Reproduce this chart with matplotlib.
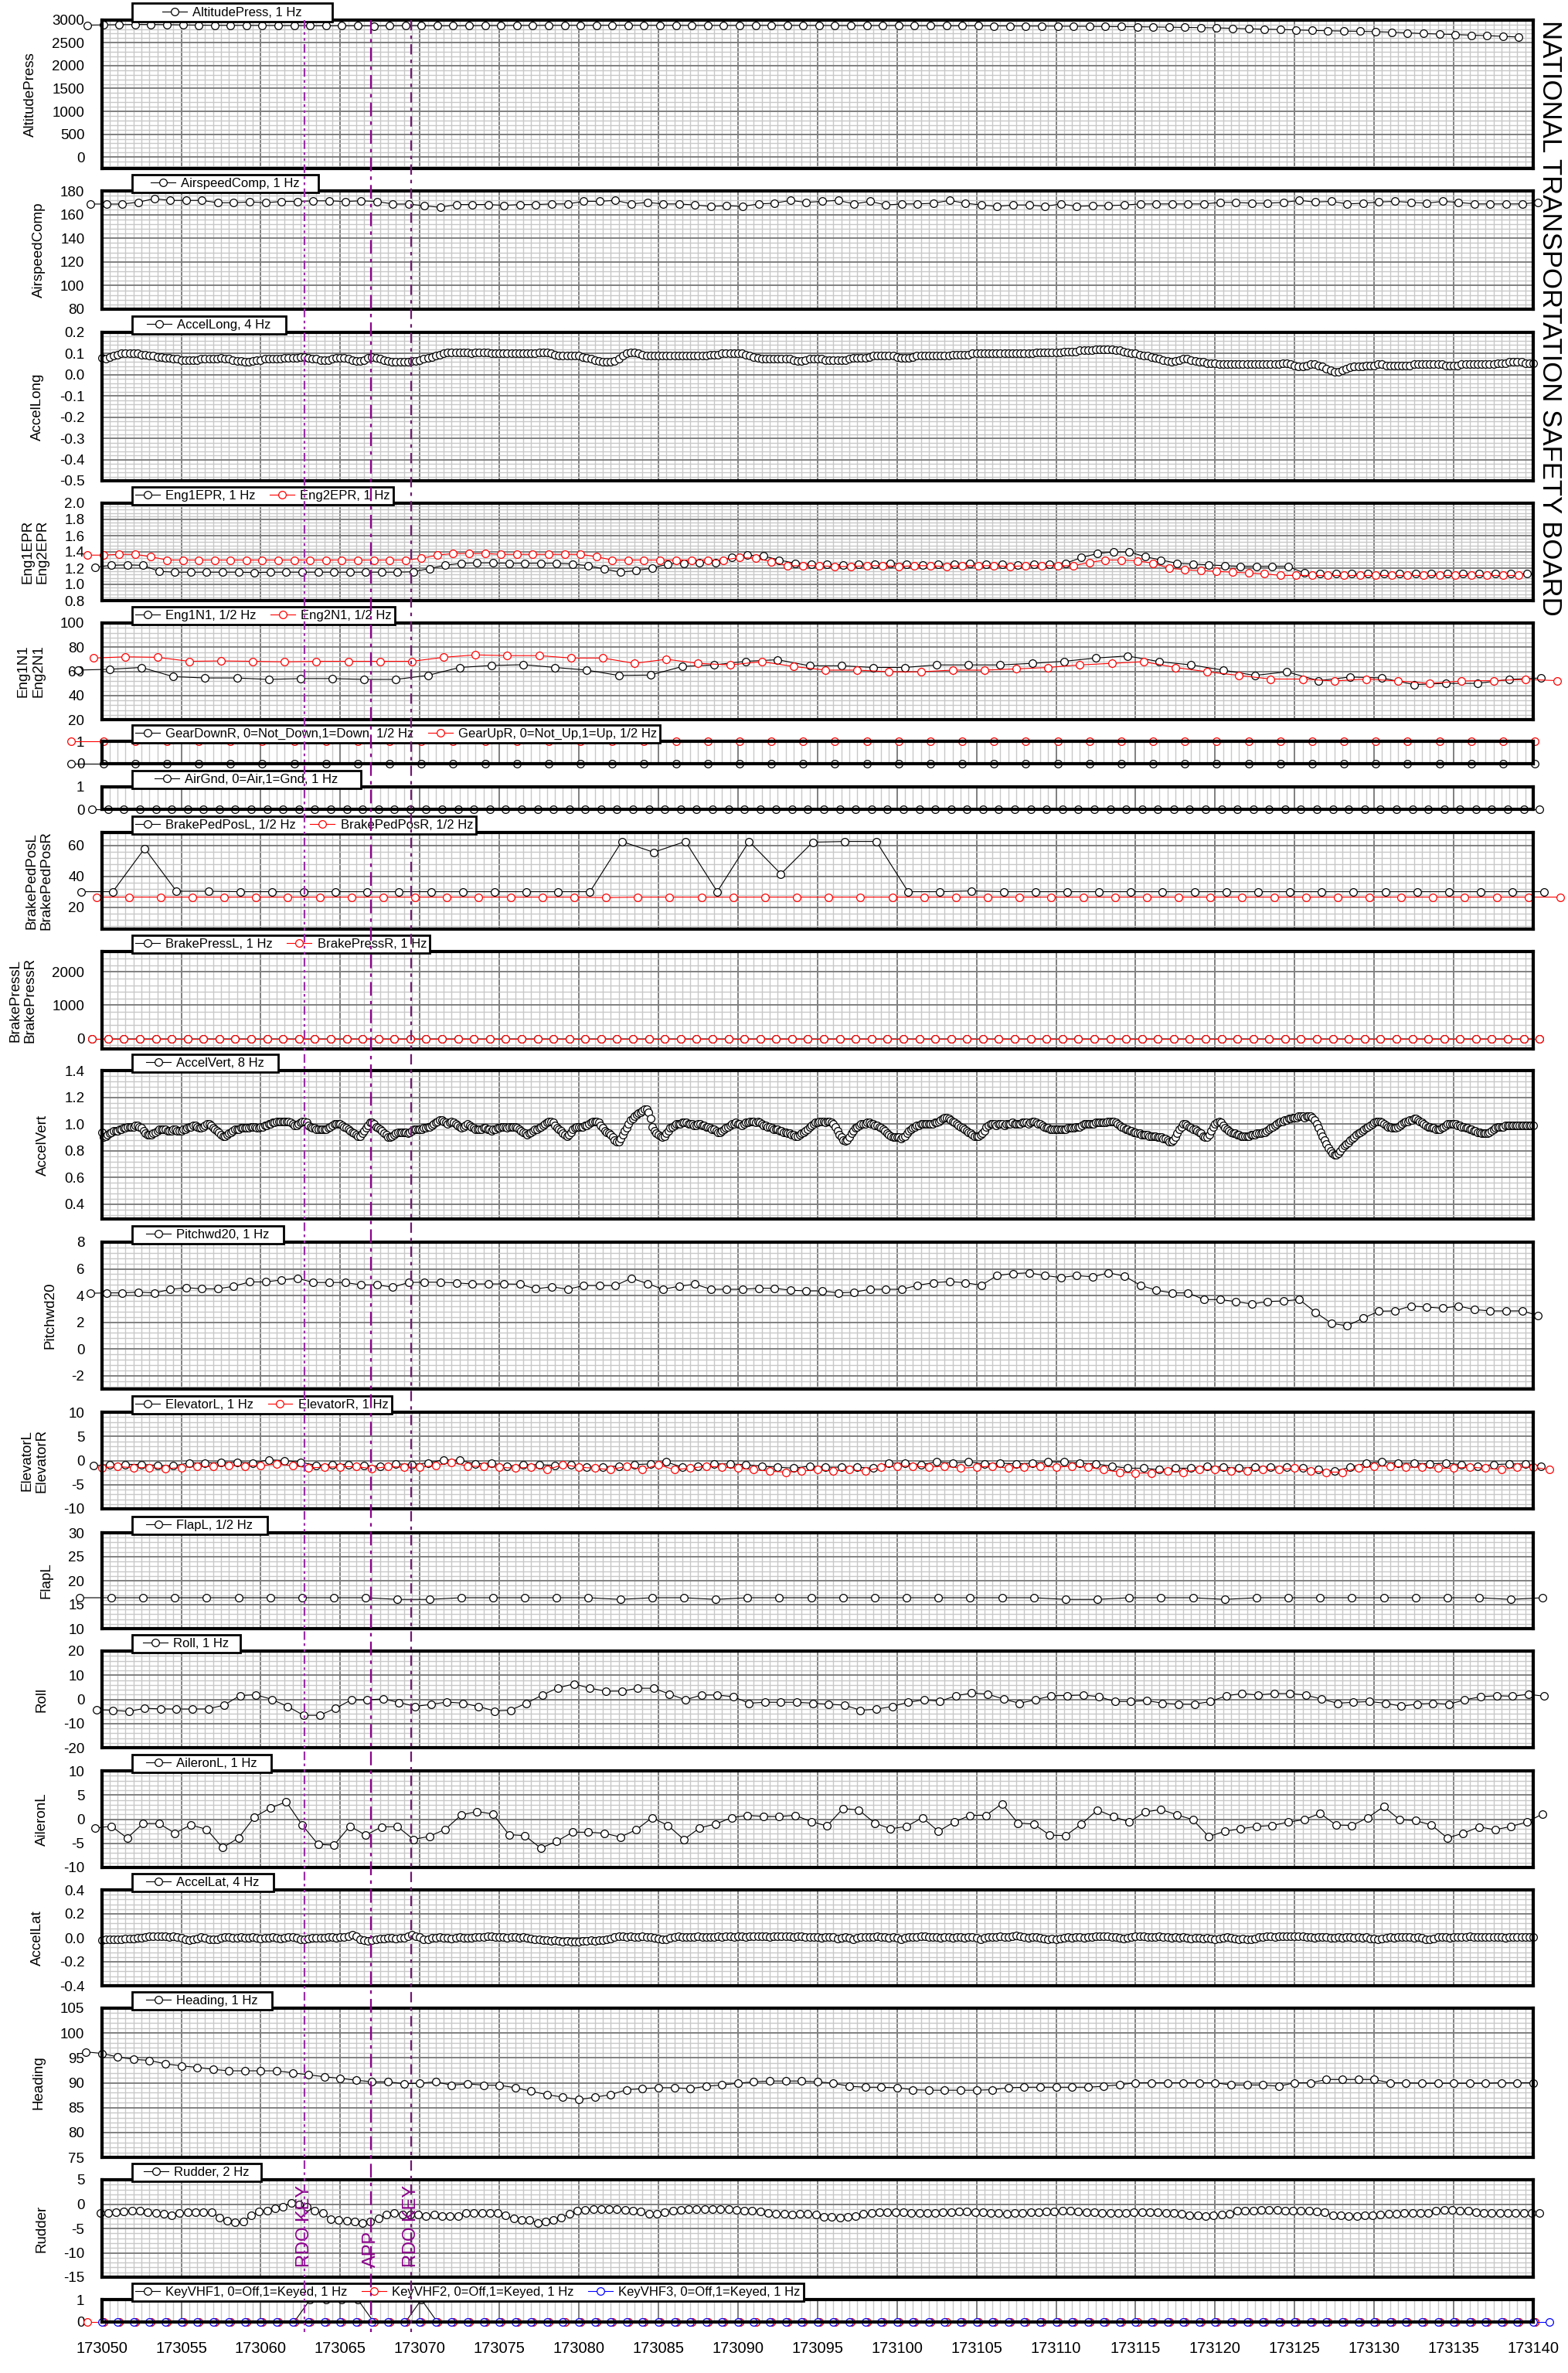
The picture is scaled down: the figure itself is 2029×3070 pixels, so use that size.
import numpy as np
import matplotlib
matplotlib.use("Agg")
import matplotlib.pyplot as plt
from matplotlib.ticker import MultipleLocator, FormatStrFormatter, NullLocator
from matplotlib.lines import Line2D
from matplotlib.offsetbox import DrawingArea
import matplotlib.transforms as mtransforms

plt.rcParams['font.family'] = ['Liberation Sans', 'DejaVu Sans']
plt.rcParams['axes.unicode_minus'] = False

W, H = 2029, 3070
T_START, T_END = 173050, 173140

# ---------------- data (sample start time, rate in Hz, values) ----------------
alt_t0 = 173049.1
altitude = [2885, 2890, 2895, 2900, 2900, 2895, 2890, 2885, 2880, 2880, 2880,
            2878, 2875, 2875, 2872, 2870, 2870, 2870, 2868, 2870, 2872,
            2872, 2870, 2870, 2872, 2875, 2875, 2878, 2878, 2880, 2880,
            2880, 2880, 2882, 2882, 2880, 2880, 2880, 2878, 2878, 2878,
            2878, 2878, 2880, 2880, 2878, 2878, 2875, 2875, 2875, 2875,
            2875, 2872, 2872, 2870, 2870, 2870, 2868, 2868, 2865, 2865,
            2862, 2860, 2858, 2855, 2852, 2850, 2845, 2840, 2835, 2830,
            2825, 2815, 2805, 2795, 2790, 2780, 2770, 2762, 2755, 2750,
            2742, 2730, 2715, 2700, 2690, 2680, 2665, 2655, 2640, 2625]

spd_t0 = 173049.3
airspeed = [168.9, 168.9, 168.9, 170.5, 173.4, 172.0, 172.0, 172.0, 170.0, 170.0,
            170.7, 170.0, 171.1, 171.1, 171.6, 171.6, 171.1, 171.6, 171.1, 168.9,
            168.9, 167.4, 166.1, 168.5, 168.5, 168.5, 167.8, 168.5, 168.5,
            169.0, 169.0, 171.2, 171.2, 172.0, 169.0, 170.3, 169.0, 169.0, 168.1,
            166.9, 167.5, 166.9, 169.0, 169.6, 172.0, 170.3, 171.2, 172.0, 169.0,
            171.2, 168.1, 169.0, 169.0, 169.6, 172.0, 169.6, 168.1, 166.9, 168.1,
            168.1, 166.9, 169.0, 166.9, 167.5, 167.5, 168.1, 169.0, 169.0, 169.0,
            169.0, 169.0, 170.3, 170.3, 169.6, 169.6, 170.3, 172.0, 170.6, 171.2,
            169.0, 169.6, 170.6, 171.2, 170.3, 169.6, 171.2, 170.3, 169.0, 169.0,
            169.0, 169.0, 170.3]

along_t0 = 173050.0
accel_long = [
    .08, .075, .085, .09, .095, .10, .10, .10, .10, .10, .095, .095, .09, .09, .085, .085,
    .08, .08, .075, .075, .07, .07, .07, .07, .07, .075, .075, .075, .075, .075, .08, .075,
    .075, .07, .065, .065, .06, .06, .065, .07, .07, .075, .075, .075, .075, .075, .08, .08,
    .08, .08, .085, .085, .08, .075, .075, .07, .07, .07, .075, .08, .08, .08, .075, .07,
    .065, .065, .07, .08, .085, .08, .075, .07, .065, .06, .06, .06, .06, .06, .065, .065,
    .07, .075, .08, .085, .09, .095, .10, .105, .105, .105, .105, .105, .105, .10, .105, .105,
    .105, .105, .10, .10, .10, .10, .10, .10, .10, .10, .10, .10, .10, .10, .105, .105,
    .105, .10, .095, .09, .09, .09, .09, .09, .09, .085, .08, .075, .07, .065, .06, .06,
    .06, .065, .075, .09, .10, .105, .105, .10, .095, .09, .09, .09, .09, .09, .09, .09,
    .09, .09, .09, .09, .09, .09, .09, .09, .09, .095, .095, .095, .10, .10, .10, .10,
    .10, .10, .095, .09, .085, .08, .075, .075, .075, .075, .075, .075, .075, .075, .07, .065,
    .065, .07, .075, .075, .075, .075, .07, .07, .07, .07, .07, .07, .075, .08, .08, .08,
    .08, .085, .09, .09, .09, .09, .09, .09, .085, .08, .08, .08, .085, .09, .09, .09,
    .09, .09, .09, .09, .09, .09, .095, .095, .095, .095, .095, .10, .10, .10, .10, .10,
    .10, .10, .10, .10, .10, .10, .10, .10, .10, .10, .10, .105, .105, .105, .105, .105,
    .105, .105, .11, .11, .11, .11, .115, .115, .115, .115, .12, .12, .12, .12, .12, .115,
    .115, .11, .105, .10, .10, .095, .09, .09, .085, .08, .075, .07, .065, .06, .065, .07,
    .075, .075, .07, .065, .06, .06, .055, .055, .055, .05, .05, .05, .05, .05, .05, .05,
    .05, .05, .05, .05, .05, .05, .05, .05, .05, .055, .055, .05, .045, .04, .04, .045,
    .05, .05, .045, .04, .03, .02, .015, .015, .02, .03, .035, .04, .04, .04, .045, .045,
    .045, .05, .05, .045, .045, .045, .045, .045, .045, .045, .05, .05, .05, .05, .05, .05,
    .05, .05, .045, .045, .045, .045, .05, .05, .05, .05, .05, .05, .05, .05, .05, .055,
    .055, .055, .06, .06, .06, .06, .055, .055, .055]

epr1_t0 = 173049.6
eng1_epr = [1.21, 1.235, 1.24, 1.235, 1.16, 1.15, 1.15, 1.15, 1.15, 1.15,
            1.145, 1.15, 1.15, 1.15, 1.15, 1.15, 1.15, 1.15, 1.15, 1.15,
            1.155, 1.195, 1.235, 1.26, 1.265, 1.265, 1.26, 1.26, 1.26, 1.26,
            1.25, 1.23, 1.19, 1.15, 1.17, 1.20, 1.25, 1.26, 1.27, 1.27,
            1.33, 1.36, 1.35, 1.30, 1.26, 1.25, 1.25, 1.24, 1.25, 1.25,
            1.26, 1.25, 1.24, 1.25, 1.25, 1.26, 1.25, 1.25, 1.24, 1.25,
            1.25, 1.26, 1.33, 1.38, 1.40, 1.40, 1.34, 1.30, 1.26, 1.25,
            1.24, 1.23, 1.22, 1.22, 1.22, 1.22, 1.14, 1.13, 1.13, 1.13,
            1.13, 1.13, 1.13, 1.13, 1.13, 1.13, 1.13, 1.13, 1.13, 1.13, 1.13]
epr2_t0 = 173049.1
eng2_epr = [1.36, 1.36, 1.37, 1.37, 1.34, 1.30, 1.30, 1.30, 1.30, 1.30,
            1.30, 1.30, 1.30, 1.30, 1.30, 1.30, 1.30, 1.30, 1.30, 1.30,
            1.30, 1.32, 1.36, 1.38, 1.38, 1.38, 1.37, 1.37, 1.37, 1.37,
            1.37, 1.37, 1.34, 1.30, 1.30, 1.30, 1.30, 1.30, 1.30, 1.30,
            1.30, 1.33, 1.32, 1.28, 1.23, 1.23, 1.23, 1.22, 1.22, 1.23,
            1.23, 1.22, 1.23, 1.23, 1.22, 1.23, 1.23, 1.23, 1.22, 1.23,
            1.23, 1.23, 1.23, 1.27, 1.30, 1.30, 1.29, 1.26, 1.20, 1.18,
            1.17, 1.16, 1.15, 1.14, 1.13, 1.11, 1.11, 1.11, 1.11, 1.11,
            1.11, 1.11, 1.11, 1.11, 1.11, 1.11, 1.11, 1.11, 1.11, 1.11, 1.11]

n1a_t0 = 173048.5
eng1_n1 = [61, 61.7, 63.2, 55.6, 54.5, 54.5, 53.3, 54, 54, 53.3, 53.3, 56.6, 63.2,
           64.8, 65.5, 63.2, 61, 56.6, 56.9, 64, 65.3, 68.3, 69.6, 64.6, 64.6, 63.2,
           63.2, 65.3, 65.3, 65.3, 66.6, 68.3, 71, 72.7, 68, 65.3, 61, 56.6, 59.6,
           52.3, 55.3, 54.5, 49, 50, 50, 53.3, 54.5]
n1b_t0 = 173049.5
eng2_n1 = [71, 72, 71.6, 68.3, 68.6, 68.3, 67.9, 68.3, 68.3, 68.3, 68.3, 71.6, 73.6,
           73, 73, 71, 71, 66.6, 70, 66.6, 65.3, 68, 64, 61, 61, 59.6, 59.6, 61, 61,
           62, 63.2, 65.3, 66.6, 68, 63.2, 59.6, 56.6, 53.6, 53.6, 52, 53.6, 52, 50,
           52, 52.3, 53.3, 52.3]

gear_t0 = 173048.1
gear_down = [0] * 47
gear_up = [1] * 47

airgnd_t0 = 173049.4
air_gnd = [0] * 92

bpl_t0 = 173048.7
brake_ped_l = [30, 30, 58, 30.3, 30.3, 30, 30, 30, 30, 30, 30, 30, 30, 30, 30, 30, 30,
               62.5, 55.5, 62.5, 30, 62.5, 41.5, 62, 62.5, 62.5, 30,
               30, 30.5, 30, 30, 30, 30, 30, 30, 30, 30, 30, 30, 30, 30, 30, 30, 30, 30, 30, 30]
bpr_t0 = 173049.7
brake_ped_r = [26.5] * 16 + [26.2] + [26.5] * 30

bp_t0 = 173049.4
brake_press_l = [0] * 92
brake_press_r = [0] * 92

avert_t0 = 173050.0
accel_vert = [
    0.94, 0.90, 0.91, 0.92, 0.93, 0.94, 0.95, 0.95,
    0.95, 0.96, 0.96, 0.97, 0.97, 0.98, 0.98, 0.98,
    0.98, 0.99, 0.99, 0.98, 0.97, 0.95, 0.93, 0.92,
    0.92, 0.92, 0.93, 0.94, 0.95, 0.96, 0.96, 0.96,
    0.96, 0.95, 0.95, 0.95, 0.96, 0.96, 0.95, 0.95,
    0.95, 0.96, 0.96, 0.97, 0.98, 0.98, 0.99, 0.99,
    0.98, 0.97, 0.97, 0.98, 0.99, 1.00, 1.00, 0.99,
    0.97, 0.96, 0.95, 0.94, 0.92, 0.91, 0.91, 0.92,
    0.93, 0.94, 0.95, 0.96, 0.96, 0.96, 0.97, 0.97,
    0.97, 0.97, 0.97, 0.98, 0.98, 0.98, 0.97, 0.97,
    0.98, 0.98, 0.99, 0.99, 1.00, 1.00, 1.01, 1.01,
    1.02, 1.02, 1.02, 1.02, 1.02, 1.02, 1.02, 1.01,
    1.00, 0.99, 0.99, 1.00, 1.01, 1.02, 1.02, 1.01,
    0.99, 0.98, 0.97, 0.97, 0.96, 0.96, 0.96, 0.96,
    0.96, 0.96, 0.97, 0.98, 0.99, 1.00, 1.00, 1.00,
    1.00, 0.99, 0.98, 0.97, 0.96, 0.95, 0.94, 0.93,
    0.92, 0.91, 0.91, 0.93, 0.95, 0.97, 0.99, 1.01,
    1.01, 1.00, 0.98, 0.97, 0.96, 0.95, 0.93, 0.92,
    0.90, 0.90, 0.91, 0.92, 0.93, 0.94, 0.94, 0.94,
    0.94, 0.94, 0.93, 0.94, 0.95, 0.96, 0.96, 0.96,
    0.96, 0.96, 0.97, 0.97, 0.98, 0.98, 0.99, 1.00,
    1.01, 1.02, 1.03, 1.03, 1.02, 1.01, 1.00, 1.01,
    1.02, 1.01, 1.00, 0.99, 0.98, 0.97, 0.98, 0.99,
    1.00, 0.99, 0.98, 0.97, 0.96, 0.96, 0.96, 0.96,
    0.97, 0.97, 0.96, 0.96, 0.95, 0.96, 0.96, 0.97,
    0.97, 0.98, 0.98, 0.98, 0.97, 0.98, 0.98, 0.98,
    0.98, 0.97, 0.96, 0.95, 0.94, 0.93, 0.92, 0.93,
    0.94, 0.95, 0.96, 0.96, 0.97, 0.98, 0.99, 1.00,
    1.01, 1.02, 1.02, 1.01, 0.99, 0.97, 0.96, 0.95,
    0.93, 0.92, 0.91, 0.92, 0.94, 0.96, 0.97, 0.98,
    0.98, 0.98, 0.98, 0.99, 0.99, 1.00, 1.01, 1.02,
    1.02, 1.02, 1.01, 0.99, 0.97, 0.95, 0.94, 0.93,
    0.92, 0.90, 0.88, 0.87, 0.87, 0.89, 0.92, 0.95,
    0.97, 1.00, 1.03, 1.04, 1.06, 1.07, 1.08, 1.09,
    1.10, 1.11, 1.11, 1.09, 1.04, 0.98, 0.95, 0.93,
    0.92, 0.91, 0.90, 0.91, 0.93, 0.95, 0.97, 0.98,
    0.99, 1.00, 1.00, 1.00, 1.01, 1.01, 1.01, 1.00,
    1.00, 1.00, 0.99, 0.99, 1.00, 1.00, 0.99, 0.99,
    0.98, 0.98, 0.97, 0.96, 0.96, 0.95, 0.94, 0.94,
    0.95, 0.96, 0.97, 0.98, 0.99, 1.00, 1.00, 1.01,
    1.00, 1.00, 0.99, 1.00, 1.01, 1.01, 1.02, 1.02,
    1.02, 1.01, 1.02, 1.01, 1.00, 0.99, 0.99, 0.98,
    0.98, 0.97, 0.96, 0.96, 0.96, 0.95, 0.95, 0.94,
    0.94, 0.93, 0.93, 0.92, 0.92, 0.91, 0.91, 0.92,
    0.93, 0.94, 0.95, 0.96, 0.98, 0.99, 1.00, 1.01,
    1.01, 1.02, 1.02, 1.02, 1.01, 1.02, 1.02, 1.01,
    1.00, 0.98, 0.95, 0.92, 0.90, 0.88, 0.875, 0.88,
    0.90, 0.93, 0.95, 0.97, 0.98, 0.99, 1.00, 1.00,
    1.00, 1.01, 1.01, 1.00, 1.00, 0.99, 0.99, 0.98,
    0.97, 0.96, 0.95, 0.93, 0.92, 0.91, 0.90, 0.90,
    0.90, 0.90, 0.89, 0.90, 0.91, 0.93, 0.95, 0.96,
    0.97, 0.98, 0.99, 0.99, 1.00, 1.00, 1.00, 1.00,
    1.00, 1.00, 1.00, 1.01, 1.01, 1.02, 1.03, 1.04,
    1.05, 1.05, 1.04, 1.03, 1.02, 1.01, 1.00, 0.99,
    0.98, 0.97, 0.96, 0.95, 0.94, 0.93, 0.92, 0.91,
    0.91, 0.91, 0.92, 0.93, 0.95, 0.98, 0.99, 1.00,
    1.00, 1.00, 0.99, 1.00, 1.00, 1.00, 0.99, 1.00,
    1.00, 1.00, 1.01, 1.00, 1.00, 1.00, 1.00, 1.01,
    1.01, 1.01, 1.00, 1.01, 1.02, 1.02, 1.01, 1.00,
    1.00, 0.99, 0.98, 0.97, 0.97, 0.96, 0.96, 0.96,
    0.96, 0.96, 0.96, 0.96, 0.96, 0.96, 0.97, 0.97,
    0.97, 0.97, 0.98, 0.98, 0.98, 0.99, 1.00, 1.00,
    1.00, 1.00, 1.00, 1.00, 1.01, 1.01, 1.01, 1.01,
    1.01, 1.01, 1.02, 1.02, 1.02, 1.02, 1.01, 1.00,
    0.99, 0.98, 0.97, 0.96, 0.96, 0.95, 0.95, 0.94,
    0.94, 0.93, 0.93, 0.92, 0.92, 0.92, 0.92, 0.91,
    0.91, 0.91, 0.91, 0.90, 0.90, 0.90, 0.89, 0.89,
    0.88, 0.87, 0.87, 0.88, 0.90, 0.93, 0.96, 0.98,
    1.00, 1.00, 0.99, 0.98, 0.97, 0.96, 0.96, 0.95,
    0.94, 0.93, 0.91, 0.90, 0.90, 0.92, 0.95, 0.98,
    1.00, 1.01, 1.02, 1.01, 0.99, 0.97, 0.96, 0.95,
    0.94, 0.93, 0.93, 0.92, 0.92, 0.91, 0.91, 0.91,
    0.91, 0.91, 0.92, 0.92, 0.92, 0.93, 0.93, 0.93,
    0.94, 0.94, 0.95, 0.96, 0.97, 0.98, 0.99, 1.00,
    1.01, 1.02, 1.02, 1.03, 1.03, 1.04, 1.04, 1.05,
    1.05, 1.05, 1.06, 1.06, 1.06, 1.05, 1.06, 1.06,
    1.06, 1.05, 1.03, 1.00, 0.97, 0.94, 0.91, 0.88,
    0.85, 0.82, 0.80, 0.78, 0.77, 0.77, 0.78, 0.80,
    0.82, 0.84, 0.85, 0.86, 0.88, 0.89, 0.90, 0.92,
    0.93, 0.94, 0.95, 0.96, 0.97, 0.98, 0.99, 1.00,
    1.01, 1.02, 1.02, 1.02, 1.01, 1.00, 0.99, 0.98,
    0.98, 0.97, 0.97, 0.97, 0.98, 0.99, 1.00, 1.01,
    1.02, 1.02, 1.03, 1.03, 1.04, 1.04, 1.03, 1.02,
    1.01, 1.00, 0.99, 0.98, 0.98, 0.97, 0.97, 0.96,
    0.96, 0.96, 0.97, 0.98, 0.99, 1.00, 1.00, 1.00,
    1.00, 1.00, 0.99, 0.99, 0.98, 0.98, 0.97, 0.97,
    0.96, 0.96, 0.95, 0.95, 0.94, 0.94, 0.93, 0.93,
    0.93, 0.93, 0.94, 0.95, 0.96, 0.97, 0.98, 0.98,
    0.98, 0.98, 0.99, 0.99, 0.99, 0.99, 0.99, 0.99,
    0.99, 0.99, 0.99, 0.99, 0.99, 0.99, 0.99, 0.99,
    0.99]

pitch_t0 = 173049.3
pitch = [4.17, 4.2, 4.2, 4.26, 4.2, 4.45, 4.6, 4.5, 4.5, 4.7, 5.02, 5.02, 5.17, 5.3,
         4.98, 4.98, 4.98, 4.8, 4.8, 4.63, 4.98, 5.0, 5.0, 4.95, 4.87, 4.87, 4.87,
         4.85, 4.5, 4.66, 4.47, 4.75, 4.75, 4.75, 5.3, 4.9, 4.47, 4.7, 4.85, 4.47,
         4.47, 4.47, 4.55, 4.55, 4.4, 4.35, 4.35, 4.2, 4.25, 4.47, 4.47, 4.47, 4.77,
         4.96, 5.05, 4.96, 4.77, 5.5, 5.65, 5.7, 5.5, 5.35, 5.5, 5.4, 5.7, 5.46, 4.77,
         4.4, 4.2, 4.2, 3.7, 3.7, 3.55, 3.37, 3.55, 3.6, 3.7, 2.76, 1.93, 1.73, 2.3,
         2.83, 2.85, 3.22, 3.14, 3.05, 3.22, 2.95, 2.85, 2.85, 2.85, 2.5]

elevl_t0 = 173049.5
elevator_l = [-1.1, -0.8, -0.8, -0.8, -1.0, -1.1, -0.5, -0.5, -0.4, -0.35, -0.5, 0.15,
              0.0, -0.35, -1.0, -0.8, -0.8, -1.0, -1.2, -0.7, -0.8, -0.5, 0.15, 0.05,
              -0.7, -0.5, -1.17, -0.85, -0.85, -1.0, -0.85, -1.38, -1.38, -1.17, -0.85,
              -0.7, -0.3, -1.38, -1.17, -0.7, -0.7, -0.85, -1.17, -1.38, -1.59, -1.17,
              -1.38, -1.38, -1.38, -1.59, -0.54, -0.54, -0.85, -0.3, -0.54, -0.3, -0.7,
              -0.54, -0.7, -0.54, -0.3, -0.3, -0.54, -0.7, -1.17, -1.59, -1.59, -1.9,
              -1.59, -1.59, -1.17, -1.38, -1.59, -1.38, -1.38, -1.38, -1.59, -1.9, -2.2,
              -1.38, -0.54, -0.3, -0.54, -0.54, -0.7, -0.54, -0.85, -1.17, -0.85, -0.7,
              -0.7, -1.17]
elevr_t0 = 173050.0
elevator_r = [-1.5, -1.25, -1.5, -1.45, -1.7, -1.45, -1.25, -1.25, -1.05, -1.15, -1.05,
              -0.75, -1.05, -1.5, -1.4, -1.3, -1.25, -1.7, -1.25, -1.4, -1.4, -1.05, -0.4,
              -1.15, -1.25, -1.4,
              -1.59, -1.38, -1.9, -0.85, -1.38, -1.59, -1.9, -1.17, -1.9, -0.85, -1.9,
              -1.59, -1.17, -1.38, -1.59, -1.9, -2.2, -2.4, -2.2, -1.9, -2.2, -1.9, -2.2,
              -1.38, -1.17, -1.17, -1.38, -1.17, -1.59, -1.38, -1.17, -1.59, -1.38, -1.17,
              -1.38, -1.17, -1.38, -1.9, -2.4, -2.6, -2.6, -2.2, -2.4, -1.9, -1.9, -2.2,
              -2.2, -1.9, -1.9, -1.59, -2.2, -2.4, -2.4, -1.59, -1.17, -1.17, -1.38, -1.38,
              -1.59, -1.59, -1.38, -1.59, -1.9, -1.38, -1.38, -1.9]

flap_t0 = 173048.6
flap_l = [16.45] * 10 + [16.1, 16.1] + [16.45] * 5 + [16.1, 16.45, 16.45, 16.1] \
    + [16.45] * 10 + [16.1, 16.1] + [16.45] * 3 + [16.1] + [16.45] * 8 + [16.1, 16.45]

roll_t0 = 173049.7
roll = [-4.3, -4.5, -5.0, -3.7, -3.95, -4.0, -4.0, -3.95, -2.35, 1.6, 1.9, 0.0, -3.0,
        -6.6, -6.6, -3.7, -0.2, -0.2, 0.2, -1.3, -2.9, -2.1, -1.1, -1.6, -3.0, -4.8,
        -4.5, -1.6, 1.8, 4.8, 6.4, 4.6, 3.4, 3.4, 4.6, 4.6, 2.2, -0.2, 1.8, 1.8, 1.1,
        -1.6, -1.2, -1.2, -1.2, -1.6, -2.0, -2.4, -4.5, -4.1, -2.9, -1.2, -0.2, -0.8,
        1.5, 2.6, 2.2, 0.1, -1.6, -0.2, 1.5, 1.6, 1.8, 1.1, -0.9, -0.9, -0.5, -1.6,
        -2.0, -2.0, -0.9, 1.5, 2.4, 1.8, 2.4, 2.4, 1.8, 0.1, -1.6, -1.2, -0.9, -1.6,
        -2.8, -2.0, -1.6, -2.0, -0.2, 1.1, 1.5, 1.3, 2.1, 1.3]

ail_t0 = 173049.6
aileron_l = [-1.86, -1.45, -3.9, -0.9, -0.9, -2.9, -1.2, -2.1, -5.9, -3.9, 0.43, 2.3,
             3.6, -1.2, -5.2, -5.4, -1.45, -3.3, -1.6, -1.55, -4.2, -3.55, -2.1, 0.85,
             1.6, 1.06, -3.2, -3.4, -6.0, -4.6, -2.7, -2.7, -2.9, -3.7, -2.2, 0.3, -1.3,
             -4.2, -1.8, -1.0, 0.3, 0.8, 0.56, 0.56, 0.8, -0.5, -1.4, 2.2, 1.9, -0.8,
             -2.0, -1.5, 0.3, -2.5, -0.6, 0.8, 0.8, 3.2, -0.8, -1.0, -3.3, -3.4, -1.0,
             1.9, 0.56, -0.6, 1.5, 2.0, 0.9, -0.1, -3.6, -2.5, -2.0, -1.5, -1.3, -0.6,
             -0.1, 1.2, -1.2, -1.3, 0.3, 2.6, -0.1, -0.3, -1.2, -3.9, -2.9, -1.6, -2.2,
             -1.5, -0.6, 1.1]

alat_t0 = 173050.0
accel_lat = [
    -.02, -.01, -.01, -.01, -.01, -.01, -.005, -.005, -.005, 0, 0, .005, .01, .01, .01, .01,
    .01, .005, .01, .005, 0, -.015, -.02, -.015, -.005, .005, 0, -.01, -.015, -.01, 0, .005,
    .005, 0, 0, .005, 0, 0, .005, 0, -.005, 0, 0, .005, 0, -.005, 0, .005,
    .005, 0, -.01, -.015, -.005, 0, 0, 0, 0, .005, .005, 0, .005, .005, .015, .025,
    .01, -.01, -.02, -.025, -.02, -.01, -.005, -.005, 0, 0, -.005, 0, 0, .01, .025, .015,
    .005, -.015, -.01, 0, 0, .005, 0, 0, -.005, 0, .005, 0, 0, 0, .005, .005,
    .005, .01, .01, .005, .005, .005, 0, .005, .005, 0, .005, 0, -.005, -.01, -.015, -.02,
    -.02, -.025, -.02, -.025, -.03, -.025, -.03, -.03, -.03, -.025, -.025, -.02, -.025, -.02, -.02, -.015,
    -.005, .005, .01, .01, .005, .01, .005, .005, .01, .005, .005, 0, -.005, -.015, -.01, 0,
    .005, .01, .005, .005, .005, .005, .01, .005, .005, .005, .005, .01, .005, .01, .01, .005,
    .01, .01, .005, .01, .01, .01, .01, .01, .005, .01, .01, .01, .01, .01, .005, .01,
    .01, .005, .005, .005, .005, 0, .005, .005, .005, -.005, 0, .005, 0, -.01, 0, .005,
    .005, .005, .005, .01, .005, .005, 0, .005, 0, -.01, 0, .005, .005, .005, .01, .01,
    .005, .005, .005, 0, .005, .005, 0, .005, .005, 0, .005, .005, 0, -.01, 0, .005,
    .005, .005, .01, .005, .005, .015, .02, .01, .005, 0, .005, .005, 0, -.005, -.01, -.005,
    -.01, -.005, 0, .005, 0, .005, .005, 0, .005, .005, .01, .01, .01, .01, .005, .005,
    0, -.005, 0, .005, .01, .015, .01, .005, .005, .005, .01, .005, .005, 0, .005, 0,
    .005, 0, -.005, 0, 0, -.005, 0, -.005, -.01, -.005, 0, .005, 0, -.005, -.01, -.005,
    -.015, -.01, -.005, .005, .005, .01, .01, .005, .01, .015, .01, .01, .015, .01, .01, .005,
    .005, 0, .005, .005, .005, 0, 0, .005, 0, .005, .005, 0, .005, 0, .005, -.005,
    -.005, -.01, -.005, 0, .005, 0, .005, .005, .005, .005, 0, .005, 0, -.01, -.015, -.005,
    .005, .005, .005, 0, .005, .005, .005, .005, .01, .005, .005, .005, .005, .005, .005, .005,
    .005, 0, .005, .005, .005, .005, .005, .005, .005]

hdg_t0 = 173049.0
heading = [96.2, 95.9, 95.2, 94.7, 94.5, 93.8, 93.4, 93.1, 92.7, 92.4, 92.4, 92.4, 92.4,
           92.0, 91.6, 91.2, 90.9, 90.5, 90.2, 90.2, 89.8, 89.9, 90.2, 89.5, 89.8, 89.5,
           89.5, 89.0, 88.3, 87.6, 87.1, 86.6, 87.1, 87.6, 88.6, 88.8, 89.0, 89.0, 88.8,
           89.3, 89.55, 89.9, 90.2, 90.35, 90.35, 90.35, 90.2, 89.9, 89.3, 89.1, 89.1,
           89.0, 88.6, 88.5, 88.5, 88.5, 88.5, 88.6, 89.0, 89.1, 89.1, 89.1, 89.1, 89.1,
           89.3, 89.6, 90.0, 90.0, 90.0, 90.0, 90.0, 90.0, 89.55, 89.55, 89.55, 89.3,
           90.0, 90.0, 90.65, 90.65, 90.65, 90.65, 90.0, 90.0, 89.9, 89.9, 89.9, 89.9,
           89.9, 90.0, 90.0, 90.0]

rud_t0 = 173049.9
rudder = [-1.8,
          -1.8, -1.6, -1.5, -1.3, -1.3, -1.7, -1.9, -2.0, -2.3, -1.9,
          -1.6, -1.6, -1.6, -1.7, -2.7, -3.4, -3.75, -3.5, -2.3, -1.5,
          -1.3, -0.8, -0.5, 0.27, 0.0, -0.6, -1.4, -1.9, -3.1, -3.3,
          -3.4, -3.6, -3.9, -3.6, -3.0, -2.2, -1.9, -2.2, -2.2, -2.2,
          -2.5, -2.2, -2.4, -2.5, -2.5, -1.9, -1.8, -1.8, -1.8, -1.9,
          -2.3, -3.0, -3.2, -3.2, -3.9, -3.5, -3.3, -2.8, -2.0, -1.4,
          -1.2, -1.1, -1.0, -1.0, -1.1, -1.2, -1.3, -1.5, -2.0, -2.0,
          -1.7, -1.3, -1.2, -1.1, -1.1, -1.0, -1.0, -1.0, -1.1, -1.2,
          -1.3, -1.4, -1.5, -1.8, -2.0, -2.0, -2.1, -2.0, -2.0, -2.2,
          -2.6, -2.6, -2.7, -2.6, -2.4, -2.0, -1.8, -1.7, -1.6, -1.6,
          -1.7, -1.8, -1.9, -1.9, -1.8, -1.7, -1.6, -1.5, -1.5, -1.6,
          -1.7, -1.8, -1.9, -2.0, -1.9, -1.8, -1.7, -1.6, -1.5, -1.5,
          -1.4, -1.4, -1.5, -1.6, -1.7, -1.8, -1.9, -1.9, -1.8, -1.7,
          -1.6, -1.6, -1.7, -1.8, -1.9, -2.0, -2.3, -2.3, -2.4, -2.3,
          -2.2, -2.0, -1.4, -1.3, -1.3, -1.2, -1.2, -1.2, -1.3, -1.3,
          -1.4, -1.4, -1.5, -1.7, -2.3, -2.3, -2.4, -2.4, -2.3, -2.3,
          -2.2, -2.0, -2.0, -1.9, -1.9, -1.8, -1.8, -1.3, -1.2, -1.2,
          -1.3, -1.4, -1.7, -1.8, -1.8, -1.8, -1.8, -1.8, -1.8, -1.8,
          -1.8]

vhf1_t0 = 173050.1
key_vhf1 = [0] * 13 + [1, 1, 1, 1, 0, 0, 0, 1] + [0] * 70
vhf2_t0 = 173049.1
key_vhf2 = [0] * 92
vhf3_t0 = 173050.0
key_vhf3 = [0] * 92

event_times = [173062.73, 173066.92, 173069.43]
event_labels = ['RDO KEY', 'APP', 'RDO KEY']

# ---------------- layout helpers ----------------
fig = plt.figure(figsize=(W / 100, H / 100), dpi=100)
AX_L, AX_R = 131.6, 1984.0


def add_panel(top, bottom):
    return fig.add_axes([AX_L / W, 1 - bottom / H, (AX_R - AX_L) / W, (bottom - top) / H])


def series(ax, t0, rate, vals, color, label):
    t = t0 + np.arange(len(vals)) / rate
    ax.plot(t, vals, '-o', color=color, lw=0.8, ms=7, mfc='white', mec=color,
            mew=0.9, clip_on=False, label=label)


def style(ax, ylim, ymajor, fmt='%d', yminor=5, ylabel=None, show_x=False):
    ax.set_xlim(T_START, T_END)
    ax.set_ylim(*ylim)
    ax.xaxis.set_major_locator(MultipleLocator(5))
    ax.xaxis.set_minor_locator(MultipleLocator(0.5))
    ax.yaxis.set_major_locator(MultipleLocator(ymajor))
    if yminor:
        ax.yaxis.set_minor_locator(MultipleLocator(ymajor / yminor))
    else:
        ax.yaxis.set_minor_locator(NullLocator())
    ax.yaxis.set_major_formatter(FormatStrFormatter(fmt))
    ax.xaxis.set_major_formatter(FormatStrFormatter('%d'))
    ax.grid(which='minor', color='#c8c8c8', lw=1.0)
    ax.grid(which='major', color='#808080', lw=1.4)
    ax.set_axisbelow(True)
    for s in ax.spines.values():
        s.set_linewidth(3)
    ax.tick_params(axis='y', which='both', length=0, pad=16, labelsize=13.5)
    ax.tick_params(axis='x', which='both', length=0, pad=18, labelsize=14.5,
                   labelbottom=show_x)
    if ylabel:
        ax.set_ylabel(ylabel, fontsize=13.5, labelpad=14)


def legend(ax, top, side_pad):
    n = len(ax.get_lines())
    leg = ax.legend(loc='lower left', bbox_to_anchor=(171 / W, 1 - (top + 2) / H),
                    bbox_transform=fig.transFigure, ncol=n, fontsize=12,
                    frameon=True, fancybox=False, edgecolor='black', framealpha=1,
                    borderpad=0.25, borderaxespad=0, handlelength=1.9,
                    handletextpad=0.45, columnspacing=1.1, numpoints=1)
    leg.get_frame().set_linewidth(2)
    leg.set_zorder(6)
    if n == 1 and side_pad:
        # extra blank space left and right of a single entry, like the original boxes
        try:
            box = leg._legend_handle_box
            box.sep = 0
            box._children.insert(0, DrawingArea(side_pad * 0.72, 1))
            box._children.append(DrawingArea(side_pad * 0.72, 1))
        except AttributeError:
            pass


# ---------------- panels ----------------
panels = [(25.7, 218), (247, 400), (430, 622), (651, 777), (806, 931), (959, 988),
          (1018, 1047), (1077, 1202), (1231, 1357), (1385, 1577), (1607, 1797),
          (1827, 1952), (1983, 2107), (2136, 2261), (2291, 2416), (2445, 2569),
          (2598, 2791), (2820, 2946), (2975, 3004)]
legend_pads = [35, 20, 15, 0, 0, 0, 25, 0, 0, 14, 14, 0, 14, 10, 14, 14, 14, 11, 0]
axes = [add_panel(t, b) for t, b in panels]

ax = axes[0]
series(ax, alt_t0, 1, altitude, 'black', 'AltitudePress, 1 Hz')
style(ax, (-250, 3000), 500, ylabel='AltitudePress')

ax = axes[1]
series(ax, spd_t0, 1, airspeed, 'black', 'AirspeedComp, 1 Hz')
style(ax, (80, 180), 20, ylabel='AirspeedComp')

ax = axes[2]
series(ax, along_t0, 4, accel_long, 'black', 'AccelLong, 4 Hz')
style(ax, (-0.5, 0.2), 0.1, fmt='%.1f', ylabel='AccelLong')

ax = axes[3]
series(ax, epr1_t0, 1, eng1_epr, 'black', 'Eng1EPR, 1 Hz')
series(ax, epr2_t0, 1, eng2_epr, 'red', 'Eng2EPR, 1 Hz')
style(ax, (0.8, 2.0), 0.2, fmt='%.1f', ylabel='Eng1EPR\nEng2EPR')

ax = axes[4]
series(ax, n1a_t0, 0.5, eng1_n1, 'black', 'Eng1N1, 1/2 Hz')
series(ax, n1b_t0, 0.5, eng2_n1, 'red', 'Eng2N1, 1/2 Hz')
style(ax, (20, 100), 20, ylabel='Eng1N1\nEng2N1')

ax = axes[5]
series(ax, gear_t0, 0.5, gear_down, 'black', 'GearDownR, 0=Not_Down,1=Down, 1/2 Hz')
series(ax, gear_t0, 0.5, gear_up, 'red', 'GearUpR, 0=Not_Up,1=Up, 1/2 Hz')
style(ax, (0, 1), 1, yminor=0)

ax = axes[6]
series(ax, airgnd_t0, 1, air_gnd, 'black', 'AirGnd, 0=Air,1=Gnd, 1 Hz')
style(ax, (0, 1), 1, yminor=0)

ax = axes[7]
series(ax, bpl_t0, 0.5, brake_ped_l, 'black', 'BrakePedPosL, 1/2 Hz')
series(ax, bpr_t0, 0.5, brake_ped_r, 'red', 'BrakePedPosR, 1/2 Hz')
style(ax, (5.8, 68.3), 20, ylabel='BrakePedPosL\nBrakePedPosR')

ax = axes[8]
series(ax, bp_t0, 1, brake_press_l, 'black', 'BrakePressL, 1 Hz')
series(ax, bp_t0, 1, brake_press_r, 'red', 'BrakePressR, 1 Hz')
style(ax, (-310, 2610), 1000, ylabel='BrakePressL\nBrakePressR')

ax = axes[9]
series(ax, avert_t0, 8, accel_vert, 'black', 'AccelVert, 8 Hz')
style(ax, (0.29, 1.4), 0.2, fmt='%.1f', ylabel='AccelVert')

ax = axes[10]
series(ax, pitch_t0, 1, pitch, 'black', 'Pitchwd20, 1 Hz')
style(ax, (-3, 8), 2, ylabel='Pitchwd20')

ax = axes[11]
series(ax, elevl_t0, 1, elevator_l, 'black', 'ElevatorL, 1 Hz')
series(ax, elevr_t0, 1, elevator_r, 'red', 'ElevatorR, 1 Hz')
style(ax, (-10, 10), 5, ylabel='ElevatorL\nElevatorR')

ax = axes[12]
series(ax, flap_t0, 0.5, flap_l, 'black', 'FlapL, 1/2 Hz')
style(ax, (10, 30), 5, ylabel='FlapL')

ax = axes[13]
series(ax, roll_t0, 1, roll, 'black', 'Roll, 1 Hz')
style(ax, (-20, 20), 10, ylabel='Roll')

ax = axes[14]
series(ax, ail_t0, 1, aileron_l, 'black', 'AileronL, 1 Hz')
style(ax, (-10, 10), 5, ylabel='AileronL')

ax = axes[15]
series(ax, alat_t0, 4, accel_lat, 'black', 'AccelLat, 4 Hz')
style(ax, (-0.4, 0.4), 0.2, fmt='%.1f', ylabel='AccelLat')

ax = axes[16]
series(ax, hdg_t0, 1, heading, 'black', 'Heading, 1 Hz')
style(ax, (75, 105), 5, ylabel='Heading')

ax = axes[17]
series(ax, rud_t0, 2, rudder, 'black', 'Rudder, 2 Hz')
style(ax, (-15, 5), 5, ylabel='Rudder')

ax = axes[18]
series(ax, vhf1_t0, 1, key_vhf1, 'black', 'KeyVHF1, 0=Off,1=Keyed, 1 Hz')
series(ax, vhf2_t0, 1, key_vhf2, 'red', 'KeyVHF2, 0=Off,1=Keyed, 1 Hz')
series(ax, vhf3_t0, 1, key_vhf3, 'blue', 'KeyVHF3, 0=Off,1=Keyed, 1 Hz')
style(ax, (0, 1), 1, yminor=0, show_x=True)

for ax, (top, bottom), pad in zip(axes, panels, legend_pads):
    legend(ax, top, pad)

# ---------------- event markers ----------------
ev_styles = [(0, (5, 2, 1.5, 2, 1.5, 2)), (0, (8, 3, 2, 3)), (0, (6, 3, 2, 3))]
ev_colors = ['#9a2fa8', '#8b008b', '#6e1a70']
blend = mtransforms.blended_transform_factory(axes[-1].transData, fig.transFigure)
for t, ls, c in zip(event_times, ev_styles, ev_colors):
    fig.add_artist(Line2D([t, t], [1 - panels[0][0] / H, 1 - 3017 / H], transform=blend,
                          color=c, lw=1.6, linestyle=ls, zorder=10))
for t, lab in zip(event_times, event_labels):
    axes[17].text(t, -12.9, lab, rotation=90, ha='center', va='bottom',
                  color='#8b008b', fontsize=17, clip_on=False, zorder=8)

fig.text(2006 / W, 1 - 26 / H, 'NATIONAL TRANSPORTATION SAFETY BOARD', rotation=-90,
         ha='center', va='top', fontsize=25)

fig.savefig('out.png', dpi=100)
